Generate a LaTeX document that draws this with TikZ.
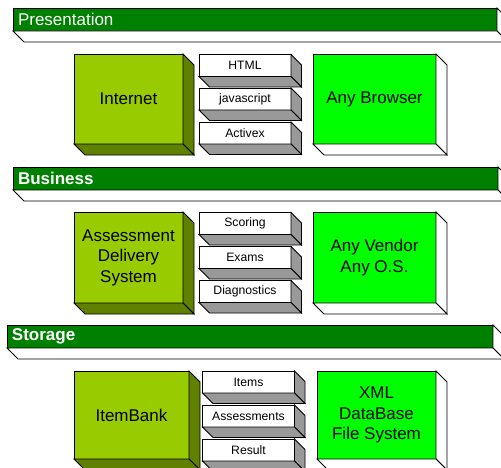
\documentclass[tikz,border=0pt]{standalone}
\usepackage{fontspec}
\setmainfont{Liberation Sans}
\definecolor{bargreen}{RGB}{0,128,0}
\definecolor{lime}{RGB}{153,204,0}
\definecolor{olive}{RGB}{96,128,0}
\definecolor{bright}{RGB}{0,255,0}
\definecolor{shade}{RGB}{153,153,153}
\newcommand\boxfaces[4]{%
  \filldraw[face, fill=#3] (#1.north east) -- ++(#2,-#2) -- ([shift={(#2,-#2)}]#1.south east) -- (#1.south east) -- cycle;
  \filldraw[face, fill=#4] (#1.south west) -- ++(#2,-#2) -- ([shift={(#2,-#2)}]#1.south east) -- (#1.south east) -- cycle;
}
\tikzset{
  face/.style={draw=black, line width=0.8pt, line join=miter},
  bar/.style={face, fill=bargreen, text=white, minimum height=23pt, inner xsep=5pt, inner ysep=0pt,
    outer sep=0pt, align=left, font=\fontsize{17}{20}\selectfont},
  bigbox/.style={face, minimum height=90pt, inner sep=0pt, outer sep=0pt, align=center,
    font=\fontsize{17}{20.5}\selectfont},
  limebox/.style={bigbox, fill=lime},
  brightbox/.style={bigbox, fill=bright},
  smallbox/.style={face, fill=white, minimum width=92pt, minimum height=22pt, inner sep=0pt, outer sep=0pt,
    font=\fontsize{12.2}{14}\selectfont},
}
\begin{document}
\begin{tikzpicture}[x=1pt,y=1pt]
\useasboundingbox (0,0) rectangle (501,467);
\clip (0,0) rectangle (501,467);
% layer bars
\node[bar, text width=474pt] (pres) at (255,447.5) {Presentation};
\boxfaces{pres}{11}{white}{white}
\node[bar, text width=475pt] (bus) at (255.5,288.5) {\textbf{Business}};
\boxfaces{bus}{11}{white}{white}
\node[bar, text width=476pt] (stor) at (250,130.5) {\textbf{Storage}};
\boxfaces{stor}{11}{white}{white}
% presentation row
\node[limebox, minimum width=109pt] (inet) at (128.5,368) {Internet};
\boxfaces{inet}{11}{olive}{olive}
\node[smallbox] (html) at (245,401.5) {HTML};
\boxfaces{html}{10.5}{shade}{shade}
\node[smallbox] (js) at (245,368) {javascript};
\boxfaces{js}{10.5}{shade}{shade}
\node[smallbox] (ax) at (245,334) {Activex};
\boxfaces{ax}{10.5}{shade}{shade}
\node[brightbox, minimum width=123pt] (brow) at (374.5,368) {Any Browser};
\boxfaces{brow}{11}{white}{white}
% business row
\node[limebox, minimum width=109pt, minimum height=91pt] (ads) at (128.5,209.5) {Assessment\\Delivery\\System};
\boxfaces{ads}{11}{olive}{olive}
\node[smallbox] (scor) at (245,243.5) {Scoring};
\boxfaces{scor}{10.5}{shade}{shade}
\node[smallbox] (exam) at (245,209.5) {Exams};
\boxfaces{exam}{10.5}{shade}{shade}
\node[smallbox] (diag) at (245,175.5) {Diagnostics};
\boxfaces{diag}{10.5}{shade}{shade}
\node[brightbox, minimum width=123pt, minimum height=91pt] (vend) at (374.5,209.5) {Any Vendor\\Any O.S.};
\boxfaces{vend}{11}{white}{white}
% storage row
\node[limebox, minimum width=115pt, minimum height=88pt] (ibank) at (131.5,52) {ItemBank};
\boxfaces{ibank}{11}{olive}{olive}
\node[smallbox] (items) at (248.5,85) {Items};
\boxfaces{items}{10.5}{shade}{shade}
\node[smallbox] (asmt) at (248.5,51) {Assessments};
\boxfaces{asmt}{10.5}{shade}{shade}
\node[smallbox] (res) at (248.5,17) {Result};
\boxfaces{res}{10.5}{shade}{shade}
\node[brightbox, minimum width=119pt, minimum height=88pt] (xml) at (376.5,52) {XML\\DataBase\\File System};
\boxfaces{xml}{11}{white}{white}
\end{tikzpicture}
\end{document}
